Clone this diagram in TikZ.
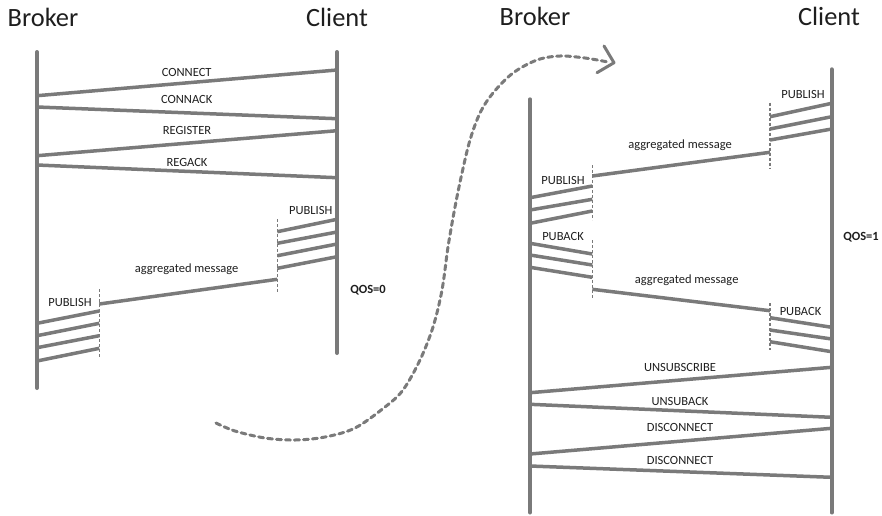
\documentclass[tikz,border=0pt]{standalone}
\usepackage{fontspec}
\setmainfont{Carlito}
\definecolor{ln}{RGB}{122,122,122}
\definecolor{tx}{RGB}{30,30,30}
\tikzset{
  life/.style={draw=ln, line width=4pt, line cap=round},
  msg/.style={draw=ln, line width=3.5pt},
  guide/.style={draw=ln, line width=1.6pt, dash pattern=on 3pt off 2pt},
  lbl/.style={font=\fontsize{12.5}{14}\selectfont, text=tx, anchor=base, inner sep=0pt},
  qos/.style={font=\fontsize{12.5}{14}\selectfont\bfseries, text=tx, anchor=base, inner sep=0pt},
  ttl/.style={font=\fontsize{26.4}{30}\selectfont, text=tx, anchor=base, inner sep=0pt},
  flow/.style={draw=ln, line width=3pt, dash pattern=on 5pt off 4pt, line cap=round},
  tipline/.style={draw=ln, line width=3pt, line cap=round, line join=round},
}
\begin{document}
\begin{tikzpicture}[x=1pt,y=-1pt]
\useasboundingbox (0,0) rectangle (882,515);

% ---------- titles
\node[ttl] (t1) at (43,26.7) {Broker};
\node[ttl] (t2) at (337,26.7) {Client};
\node[ttl] (t3) at (535,25) {Broker};
\node[ttl] (t4) at (829,25) {Client};

% ---------- left diagram lifelines
\coordinate (LB) at (37,52);
\coordinate (LBe) at (37,388);
\coordinate (LC) at (337,52);
\coordinate (LCe) at (337,353);
\draw[life] (LB) -- (LBe);
\draw[life] (LC) -- (LCe);

% left messages
\draw[msg] (LC |- 0,70) -- (LB |- 0,95.7);
\node[lbl] (m1) at (186.7,76) {CONNECT};
\draw[msg] (LB |- 0,107) -- (LC |- 0,118.7);
\node[lbl] (m2) at (186.7,103.3) {CONNACK};
\draw[msg] (LC |- 0,130.7) -- (LB |- 0,155.7);
\node[lbl] (m3) at (187,134) {REGISTER};
\draw[msg] (LB |- 0,165) -- (LC |- 0,177.7);
\node[lbl] (m4) at (187,166) {REGACK};

% left client-side publish bundle
\coordinate (LD1) at (277.3,219.3);
\coordinate (LD1e) at (277.3,291.7);
\draw[guide] (LD1) -- (LD1e);
\draw[msg] (LC |- 0,219.3) -- (LD1 |- 0,231.7);
\draw[msg] (LC |- 0,232) -- (LD1 |- 0,243.3);
\draw[msg] (LC |- 0,244) -- (LD1 |- 0,255.7);
\draw[msg] (LC |- 0,256.7) -- (LD1 |- 0,268.3);
\node[lbl] (p1) at (310.8,214) {PUBLISH};

% left aggregated
\coordinate (LD2) at (99.3,289.3);
\coordinate (LD2e) at (99.3,356.7);
\draw[guide] (LD2) -- (LD2e);
\draw[msg] (LD1 |- 0,279.3) -- (LD2 |- 0,304);
\node[lbl] (ag1) at (186.7,272) {aggregated message};

% left broker-side publish bundle
\draw[msg] (LD2 |- 0,311) -- (LB |- 0,323.3);
\draw[msg] (LD2 |- 0,323.3) -- (LB |- 0,335.7);
\draw[msg] (LD2 |- 0,335.7) -- (LB |- 0,347.7);
\draw[msg] (LD2 |- 0,348.3) -- (LB |- 0,361);
\node[lbl] (p2) at (70,306.7) {PUBLISH};

\node[qos] (q0) at (368,293.3) {QOS=0};

% ---------- right diagram lifelines
\coordinate (RB) at (530,99.3);
\coordinate (RBe) at (530,512.5);
\coordinate (RC) at (831.7,69.3);
\coordinate (RCe) at (831.7,512.5);
\draw[life] (RB) -- (RBe);
\draw[life] (RC) -- (RCe);

% right client publish bundle
\coordinate (RD1) at (770,102.7);
\coordinate (RD1e) at (770,168.3);
\draw[guide] (RD1) -- (RD1e);
\draw[msg] (RC |- 0,103.3) -- (RD1 |- 0,116.7);
\draw[msg] (RC |- 0,116.7) -- (RD1 |- 0,129);
\draw[msg] (RC |- 0,129) -- (RD1 |- 0,140);
\node[lbl] (p3) at (803,98.3) {PUBLISH};

% aggregated 1
\coordinate (RD2) at (592.3,165);
\coordinate (RD2e) at (592.3,220);
\draw[guide] (RD2) -- (RD2e);
\draw[msg] (RD1 |- 0,152.3) -- (RD2 |- 0,176);
\node[lbl] (ag2) at (680,148.5) {aggregated message};

% broker publish bundle
\draw[msg] (RD2 |- 0,186) -- (RB |- 0,197.7);
\draw[msg] (RD2 |- 0,199.3) -- (RB |- 0,210);
\draw[msg] (RD2 |- 0,211) -- (RB |- 0,223.3);
\node[lbl] (p4) at (563,184) {PUBLISH};

% broker puback bundle
\coordinate (RD3) at (592.3,240);
\coordinate (RD3e) at (592.3,298);
\draw[guide] (RD3) -- (RD3e);
\draw[msg] (RB |- 0,243.3) -- (RD3 |- 0,254);
\draw[msg] (RB |- 0,255) -- (RD3 |- 0,265);
\draw[msg] (RB |- 0,267.3) -- (RD3 |- 0,277.3);
\node[lbl] (pa1) at (563,240.7) {PUBACK};

% aggregated 2
\coordinate (RD4) at (770,303.3);
\coordinate (RD4e) at (770,350);
\draw[guide] (RD4) -- (RD4e);
\draw[msg] (RD3 |- 0,289.3) -- (RD4 |- 0,310.7);
\node[lbl] (ag3) at (686.7,283.5) {aggregated message};

% client puback bundle
\draw[msg] (RD4 |- 0,317.7) -- (RC |- 0,327.3);
\draw[msg] (RD4 |- 0,330) -- (RC |- 0,339);
\draw[msg] (RD4 |- 0,341.7) -- (RC |- 0,351.7);
\node[lbl] (pa2) at (800.5,315) {PUBACK};

\node[qos] (q1) at (861,240) {QOS=1};

% bottom messages
\draw[msg] (RC |- 0,367.3) -- (RB |- 0,392.7);
\node[lbl] (u1) at (680,371.7) {UNSUBSCRIBE};
\draw[msg] (RB |- 0,404.3) -- (RC |- 0,417.3);
\node[lbl] (u2) at (680,405) {UNSUBACK};
\draw[msg] (RC |- 0,428.3) -- (RB |- 0,454);
\node[lbl] (d1) at (680,431.7) {DISCONNECT};
\draw[msg] (RB |- 0,466) -- (RC |- 0,477.3);
\node[lbl] (d2) at (680,464) {DISCONNECT};

% ---------- flow arrow between diagrams
\coordinate (fs) at (216,423);
\coordinate (fe) at (614,62.7);
\draw[flow] plot[smooth, tension=0.55] coordinates {(216,423) (235,431) (265,438) (295,440) (325,437) (355,428) (385,407) (403,390) (420,360) (433,327) (442,290) (448,247) (455,207) (462,173) (470,140) (480,113) (493,93) (513,73) (537,60) (560,56) (585,58) (608,62)};
\draw[tipline] (604,46) -- (fe) -- (597,72.7);
\end{tikzpicture}
\end{document}
